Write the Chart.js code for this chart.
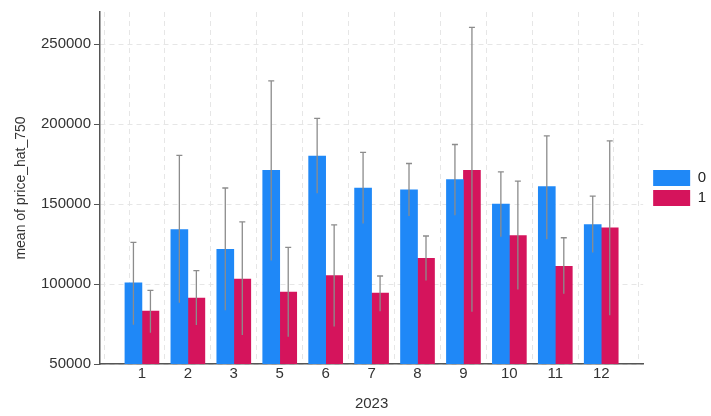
<!DOCTYPE html>
<html>
<head>
<meta charset="utf-8">
<script src="https://cdn.jsdelivr.net/npm/chart.js@4"></script>
<style>
  html, body { margin: 0; padding: 0; background: #fff; }
  #wrap { width: 711px; height: 416px; }
</style>
</head>
<body>
<div id="wrap"><canvas id="c" width="711" height="416"></canvas></div>
<script>
const categories = ['1', '2', '3', '5', '6', '7', '8', '9', '10', '11', '12'];
const mean0 = [100700, 134000, 121700, 171100, 180000, 160000, 158800, 165200, 150000, 160900, 137100];
const low0  = [74500, 88300, 83600, 114700, 156700, 137800, 142500, 143000, 129500, 127900, 119700];
const high0 = [126000, 180400, 160000, 227000, 203500, 182300, 175300, 187200, 170100, 192600, 154900];
const mean1 = [83000, 91200, 103100, 94900, 105200, 94300, 116000, 171100, 130300, 111000, 135100];
const low1  = [69600, 74300, 68200, 67100, 73500, 83000, 102200, 82600, 96600, 93900, 80500];
const high1 = [96000, 108300, 138800, 122900, 137000, 105000, 130000, 260400, 164300, 128900, 189500];
const yTicks = [50000, 100000, 150000, 200000, 250000];

const FONT = "'Liberation Sans', Arial, sans-serif";

// gray error bars drawn over the bars
const errorBars = {
  id: 'errorBars',
  afterDatasetsDraw(chart) {
    const ctx = chart.ctx;
    const y = chart.scales.y;
    chart.data.datasets.forEach((ds, di) => {
      const meta = chart.getDatasetMeta(di);
      meta.data.forEach((bar, i) => {
        const top = y.getPixelForValue(ds.high[i]);
        const bot = y.getPixelForValue(ds.low[i]);
        ctx.save();
        ctx.strokeStyle = '#8c8c8c';
        ctx.lineWidth = 1.3;
        ctx.beginPath();
        ctx.moveTo(bar.x, top);
        ctx.lineTo(bar.x, bot);
        ctx.moveTo(bar.x - 3, top);
        ctx.lineTo(bar.x + 3, top);
        ctx.stroke();
        ctx.restore();
      });
    });
  }
};

// nudge legend a bit to the right of the plot
const legendShift = {
  id: 'legendShift',
  afterLayout(chart) {
    chart.legend.left += 6;
    chart.legend.right += 6;
  }
};

new Chart(document.getElementById('c'), {
  type: 'bar',
  data: {
    datasets: [
      {
        label: '0',
        data: mean0.map((v, i) => ({ x: i, y: v })),
        low: low0, high: high0,
        backgroundColor: '#1F88F7',
        barThickness: 17
      },
      {
        label: '1',
        data: mean1.map((v, i) => ({ x: i, y: v })),
        low: low1, high: high1,
        backgroundColor: '#D5145C',
        barThickness: 17
      }
    ]
  },
  options: {
    responsive: false,
    animation: false,
    layout: { padding: { top: 8, right: 1, bottom: 0, left: 0 } },
    plugins: {
      tooltip: { enabled: false },
      legend: {
        position: 'right',
        fullSize: false,
        labels: {
          boxWidth: 37, boxHeight: 16, padding: 4,
          color: '#222', font: { family: FONT, size: 15 }
        }
      }
    },
    scales: {
      x: {
        type: 'linear',
        offset: false,
        min: -0.913, max: 10.913,
        afterBuildTicks(s) {
          s.ticks = [-0.54].concat(categories.map((c, i) => i), [10.54]).map(v => ({ value: v }));
        },
        afterFit(s) { s.height = 52; },
        ticks: {
          autoSkip: false, maxRotation: 0, padding: 1,
          color: '#333', font: { family: FONT, size: 15 },
          callback: (v) => Number.isInteger(v) ? categories[v] : ''
        },
        grid: { color: '#e6e6e6', drawTicks: false, tickLength: 0 },
        border: { color: '#555', width: 1.5, dash: [5, 4] },
        title: { display: true, text: '2023', color: '#333', font: { family: FONT, size: 15 }, padding: { top: 0, bottom: 3 } }
      },
      y: {
        min: 50000, max: 270000,
        afterBuildTicks(s) { s.ticks = yTicks.map(v => ({ value: v })); },
        afterFit(s) { s.width = 100; },
        ticks: { padding: 3, color: '#333', font: { family: FONT, size: 15 }, callback: (v) => String(v) },
        grid: { color: '#e6e6e6', tickColor: '#555', tickLength: 6 },
        border: { color: '#555', width: 1.5, dash: [5, 4] },
        title: { display: true, text: 'mean of price_hat_750', color: '#333', font: { family: FONT, size: 14 }, padding: { top: 13, bottom: 0 } }
      }
    }
  },
  plugins: [errorBars, legendShift]
});
</script>
</body>
</html>
